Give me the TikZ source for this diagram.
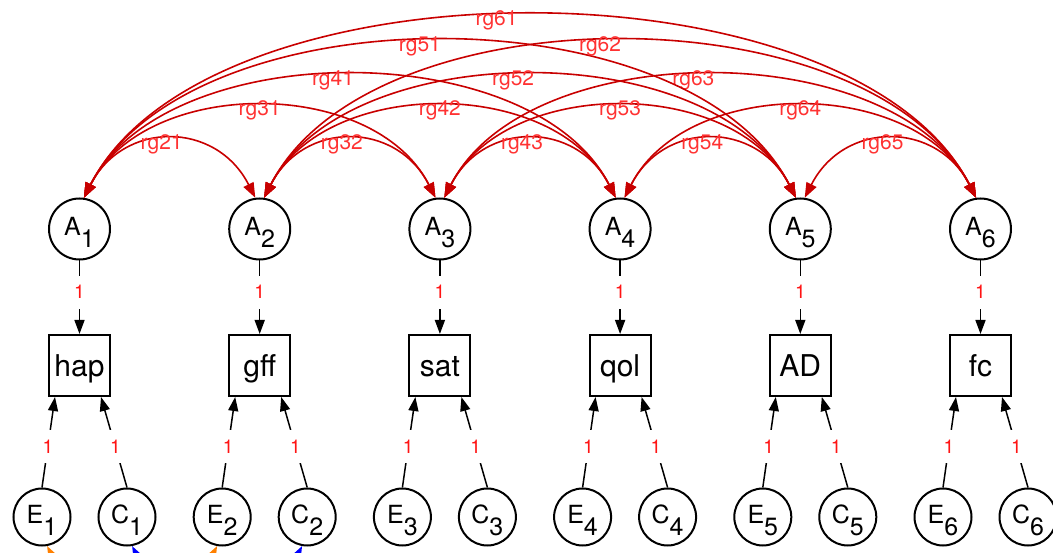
\documentclass[tikz,border=0pt]{standalone}
\usepackage{fontspec}
\setmainfont{TeX Gyre Heros}
\usetikzlibrary{arrows.meta}
\definecolor{arcred}{RGB}{200,0,0}
\definecolor{lblred}{RGB}{255,50,50}
\definecolor{onered}{RGB}{255,20,20}
\newcommand{\mysub}[1]{\raisebox{-12pt}[0pt][0pt]{#1}}
\newcommand{\covarc}[5]{\draw[cov] (#1.82) .. controls +(63:#3pt) and +(117:#3pt) .. (#2.98) node[rgl,pos=#4]{#5};}
\begin{document}
\begin{tikzpicture}[x=1pt,y=-1pt,
  lat/.style={circle,draw,line width=2pt,minimum size=61pt,inner sep=0pt,
    font=\fontsize{25}{25}\selectfont,text height=18pt,text depth=5pt},
  err/.style={lat,minimum size=57pt},
  man/.style={rectangle,draw,line width=2pt,minimum size=61pt,inner sep=0pt,
    font=\fontsize{30}{30}\selectfont,text height=23pt,text depth=0pt},
  pth/.style={line width=1.5pt,-{Triangle[length=14pt,width=10pt]}},
  one/.style={fill=white,text=onered,font=\fontsize{19}{19}\selectfont,
    inner xsep=2pt,inner ysep=10pt,text height=13pt,text depth=0pt},
  cov/.style={arcred,line width=1.6pt,
    {Triangle[length=15pt,width=11pt]}-{Triangle[length=15pt,width=11pt]}},
  bcov/.style={line width=1.6pt,
    {Triangle[length=15pt,width=11pt]}-{Triangle[length=15pt,width=11pt]}},
  rgl/.style={text=lblred,font=\fontsize{21}{21}\selectfont,anchor=base,
    yshift=-9pt,inner sep=0pt},
]
\useasboundingbox (0,0) rectangle (1053,553);
\clip (0,0) rectangle (1053,553);

% latent A
\node[lat] (A1) at (79.5,229) {A\mysub{1}};
\node[lat] (A2) at (259.7,229) {A\mysub{2}};
\node[lat] (A3) at (439.9,229) {A\mysub{3}};
\node[lat] (A4) at (620.1,229) {A\mysub{4}};
\node[lat] (A5) at (800.3,229) {A\mysub{5}};
\node[lat] (A6) at (980.5,229) {A\mysub{6}};

% manifest
\node[man] (M1) at (79.5,365.5) {hap};
\node[man] (M2) at (259.7,365.5) {gff};
\node[man] (M3) at (439.9,365.5) {sat};
\node[man] (M4) at (620.1,365.5) {qol};
\node[man] (M5) at (800.3,365.5) {AD};
\node[man] (M6) at (980.5,365.5) {fc};

% E and C
\node[err] (E1) at (42,517) {E\mysub{1}};
\node[err] (C1) at (127,517) {C\mysub{1}};
\node[err] (E2) at (222.2,517) {E\mysub{2}};
\node[err] (C2) at (307.2,517) {C\mysub{2}};
\node[err] (E3) at (402.4,517) {E\mysub{3}};
\node[err] (C3) at (487.4,517) {C\mysub{3}};
\node[err] (E4) at (582.6,517) {E\mysub{4}};
\node[err] (C4) at (667.6,517) {C\mysub{4}};
\node[err] (E5) at (762.8,517) {E\mysub{5}};
\node[err] (C5) at (847.8,517) {C\mysub{5}};
\node[err] (E6) at (943,517) {E\mysub{6}};
\node[err] (C6) at (1028,517) {C\mysub{6}};

% paths A -> manifest
\foreach \i in {1,...,6}{
  \draw[pth] (A\i) -- node[one,pos=0.43]{1} (M\i);
  \draw[pth] (E\i.north) -- node[one,pos=0.45]{1} ([xshift=-24.5pt]M\i.south);
  \draw[pth] (C\i.north) -- node[one,pos=0.45]{1} ([xshift=21.5pt]M\i.south);
}

% genetic covariances
\covarc{A1}{A2}{86.8}{0.46}{rg21}
\covarc{A2}{A3}{86.8}{0.46}{rg32}
\covarc{A3}{A4}{86.8}{0.46}{rg43}
\covarc{A4}{A5}{86.8}{0.46}{rg54}
\covarc{A5}{A6}{86.8}{0.46}{rg65}
\covarc{A1}{A3}{136.2}{0.5}{rg31}
\covarc{A2}{A4}{136.2}{0.5}{rg42}
\covarc{A3}{A5}{136.2}{0.5}{rg53}
\covarc{A4}{A6}{136.2}{0.5}{rg64}
\covarc{A1}{A4}{182.6}{0.475}{rg41}
\covarc{A2}{A5}{182.6}{0.475}{rg52}
\covarc{A3}{A6}{182.6}{0.475}{rg63}
\covarc{A1}{A5}{233.5}{0.478}{rg51}
\covarc{A2}{A6}{233.5}{0.478}{rg62}
\covarc{A1}{A6}{272}{0.471}{rg61}

% covariances below (cut off)
\draw[bcov,orange] (E1.-80) .. controls +(-63:70pt) and +(-117:70pt) .. (E2.-100);
\draw[bcov,blue] (C1.-80) .. controls +(-63:70pt) and +(-117:70pt) .. (C2.-100);
\end{tikzpicture}
\end{document}
